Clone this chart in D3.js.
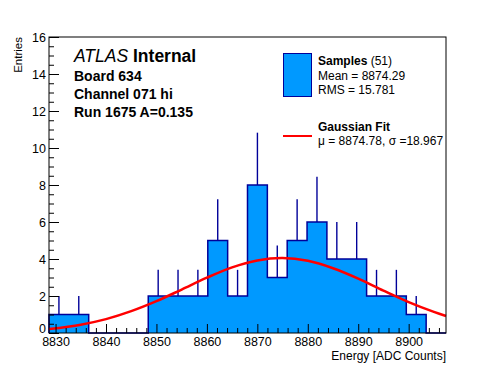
<!DOCTYPE html>
<html>
<head>
<meta charset="utf-8">
<script src="https://cdn.jsdelivr.net/npm/d3@7"></script>
<style>
  body { margin: 0; background: #fff; }
  svg text { font-family: "Liberation Sans", Arial, Helvetica, sans-serif; fill: #000; }
</style>
</head>
<body>
<svg id="chart" width="496" height="372"></svg>
<script>

// histogram range and bin contents (20 bins)
const xMin = 8828.7
const xMax = 8907.4
const counts = [1, 1, 0, 0, 0, 2, 2, 2, 5, 2, 8, 3, 5, 6, 4, 4, 2, 2, 1, 0]

// gaussian fit curve
const fitX = [8828.7, 8835, 8840, 8845, 8850, 8855, 8860, 8865, 8870, 8875, 8880, 8885, 8890, 8895, 8900, 8905, 8907.4]
const fitY = [0.21, 0.45, 0.75, 1.18, 1.72, 2.35, 2.99, 3.55, 3.92, 4.05, 3.90, 3.50, 2.94, 2.29, 1.67, 1.14, 0.92]

const xTicks = [8830, 8840, 8850, 8860, 8870, 8880, 8890, 8900]
const yTicks = [0, 2, 4, 6, 8, 10, 12, 14, 16]

const infoLines = ["Board 634", "Channel 071 hi", "Run 1675 A=0.135"]
const statLines = ["Mean = 8874.29", "RMS = 15.781"]
const fitLine = "\u03bc = 8874.78, \u03c3 =18.967"

const fillColor = "#0099ff"
const lineColor = "#000099"

const margin = { top: 37, right: 50, bottom: 39, left: 49 }
const width = 496, height = 372

const svg = d3.select("#chart")

const x = d3.scaleLinear()
  .domain([xMin, xMax])
  .range([margin.left, width - margin.right])

const y = d3.scaleLinear()
  .domain([0, 16])
  .range([height - margin.bottom, margin.top])

const binW = (xMax - xMin) / counts.length

const bins = counts.map((c, i) => ({ x0: xMin + i * binW, x1: xMin + (i + 1) * binW, n: c }))

// step outline
const pts = [[xMin, 0]]
bins.forEach(b => {
  pts.push([b.x0, b.n])
  pts.push([b.x1, b.n])
})
pts.push([xMax, 0])

const line = d3.line().x(d => x(d[0])).y(d => y(d[1]))

svg.append("path")
  .attr("d", line(pts) + "Z")
  .attr("fill", fillColor)
  .attr("stroke", "none")

svg.append("path")
  .attr("d", line(pts))
  .attr("fill", "none")
  .attr("stroke", lineColor)
  .attr("stroke-width", 1.5)

// error bars (upper half shows above the fill)
svg.append("g")
  .selectAll("line")
  .data(bins.filter(b => b.n > 0))
  .join("line")
  .attr("x1", b => x((b.x0 + b.x1) / 2))
  .attr("x2", b => x((b.x0 + b.x1) / 2))
  .attr("y1", b => y(b.n))
  .attr("y2", b => y(b.n + Math.sqrt(b.n)))
  .attr("stroke", lineColor)
  .attr("stroke-width", 1.4)

// fit curve
svg.append("path")
  .datum(fitX.map((v, i) => [v, fitY[i]]))
  .attr("d", d3.line().x(d => x(d[0])).y(d => y(d[1])).curve(d3.curveCatmullRom))
  .attr("fill", "none")
  .attr("stroke", "#ff0000")
  .attr("stroke-width", 2.5)

// axes
const xMinor = d3.range(8830, xMax, 2).filter(v => v % 10 != 0)
const yMinor = d3.range(0, 16, 0.5).filter(v => v % 2 != 0)

svg.append("g")
  .attr("transform", `translate(0,${y(0)})`)
  .call(d3.axisBottom(x).tickValues(xTicks).tickSize(-9).tickPadding(4).tickFormat(d3.format("d")))

svg.append("g")
  .attr("transform", `translate(0,${y(0)})`)
  .call(d3.axisBottom(x).tickValues(xMinor).tickSize(-5).tickFormat(""))

const yAxis = svg.append("g")
  .attr("transform", `translate(${x(xMin)},0)`)
  .call(d3.axisLeft(y).tickValues(yTicks).tickSize(-10).tickPadding(3))

// keep the "0" clear of the first x label
yAxis.selectAll(".tick text")
  .filter(d => d == 0)
  .attr("dy", "-0.05em")

svg.append("g")
  .attr("transform", `translate(${x(xMin)},0)`)
  .call(d3.axisLeft(y).tickValues(yMinor).tickSize(-5).tickFormat(""))

svg.selectAll(".domain").remove()
svg.selectAll(".tick line").attr("stroke", "#000")
svg.selectAll(".tick text")
  .style("font-size", "12.5px")
  .style("font-family", '"Liberation Sans", Arial, sans-serif')

// frame
svg.append("rect")
  .attr("x", x(xMin))
  .attr("y", y(16))
  .attr("width", x(xMax) - x(xMin))
  .attr("height", y(0) - y(16))
  .attr("fill", "none")
  .attr("stroke", "#000")
  .attr("stroke-width", 1)

// axis titles
svg.append("text")
  .attr("x", x(xMax))
  .attr("y", 360)
  .attr("text-anchor", "end")
  .style("font-size", "12px")
  .text("Energy [ADC Counts]")

svg.append("text")
  .attr("transform", `translate(22,${y(16)}) rotate(-90)`)
  .attr("text-anchor", "end")
  .style("font-size", "11.5px")
  .text("Entries")

// ATLAS label
const atlas = svg.append("text")
  .attr("x", 74)
  .attr("y", 62)
  .style("font-size", "17.5px")

atlas.append("tspan").style("font-style", "italic").text("ATLAS")
atlas.append("tspan").style("font-weight", "bold").text(" Internal")

svg.append("g")
  .selectAll("text")
  .data(infoLines)
  .join("text")
  .attr("x", 74)
  .attr("y", (d, i) => 81 + i * 18)
  .style("font-size", "14px")
  .style("font-weight", "bold")
  .text(d => d)

// legend
const legend = svg.append("g")

legend.append("rect")
  .attr("x", 283.5)
  .attr("y", 53.5)
  .attr("width", 28)
  .attr("height", 43)
  .attr("fill", fillColor)
  .attr("stroke", lineColor)
  .attr("stroke-width", 1)

const sampTitle = legend.append("text")
  .attr("x", 318)
  .attr("y", 65)
  .style("font-size", "12px")

sampTitle.append("tspan").style("font-weight", "bold").text("Samples")
sampTitle.append("tspan").text(" (51)")

legend.selectAll(".stat")
  .data(statLines)
  .join("text")
  .attr("class", "stat")
  .attr("x", 318)
  .attr("y", (d, i) => 80 + i * 13.5)
  .style("font-size", "12px")
  .text(d => d)

legend.append("line")
  .attr("x1", 283)
  .attr("x2", 312)
  .attr("y1", 136)
  .attr("y2", 136)
  .attr("stroke", "#ff0000")
  .attr("stroke-width", 2)

legend.append("text")
  .attr("x", 318)
  .attr("y", 131)
  .style("font-size", "12px")
  .style("font-weight", "bold")
  .text("Gaussian Fit")

legend.append("text")
  .attr("x", 318)
  .attr("y", 145)
  .style("font-size", "12px")
  .text(fitLine)

</script>
</body>
</html>
